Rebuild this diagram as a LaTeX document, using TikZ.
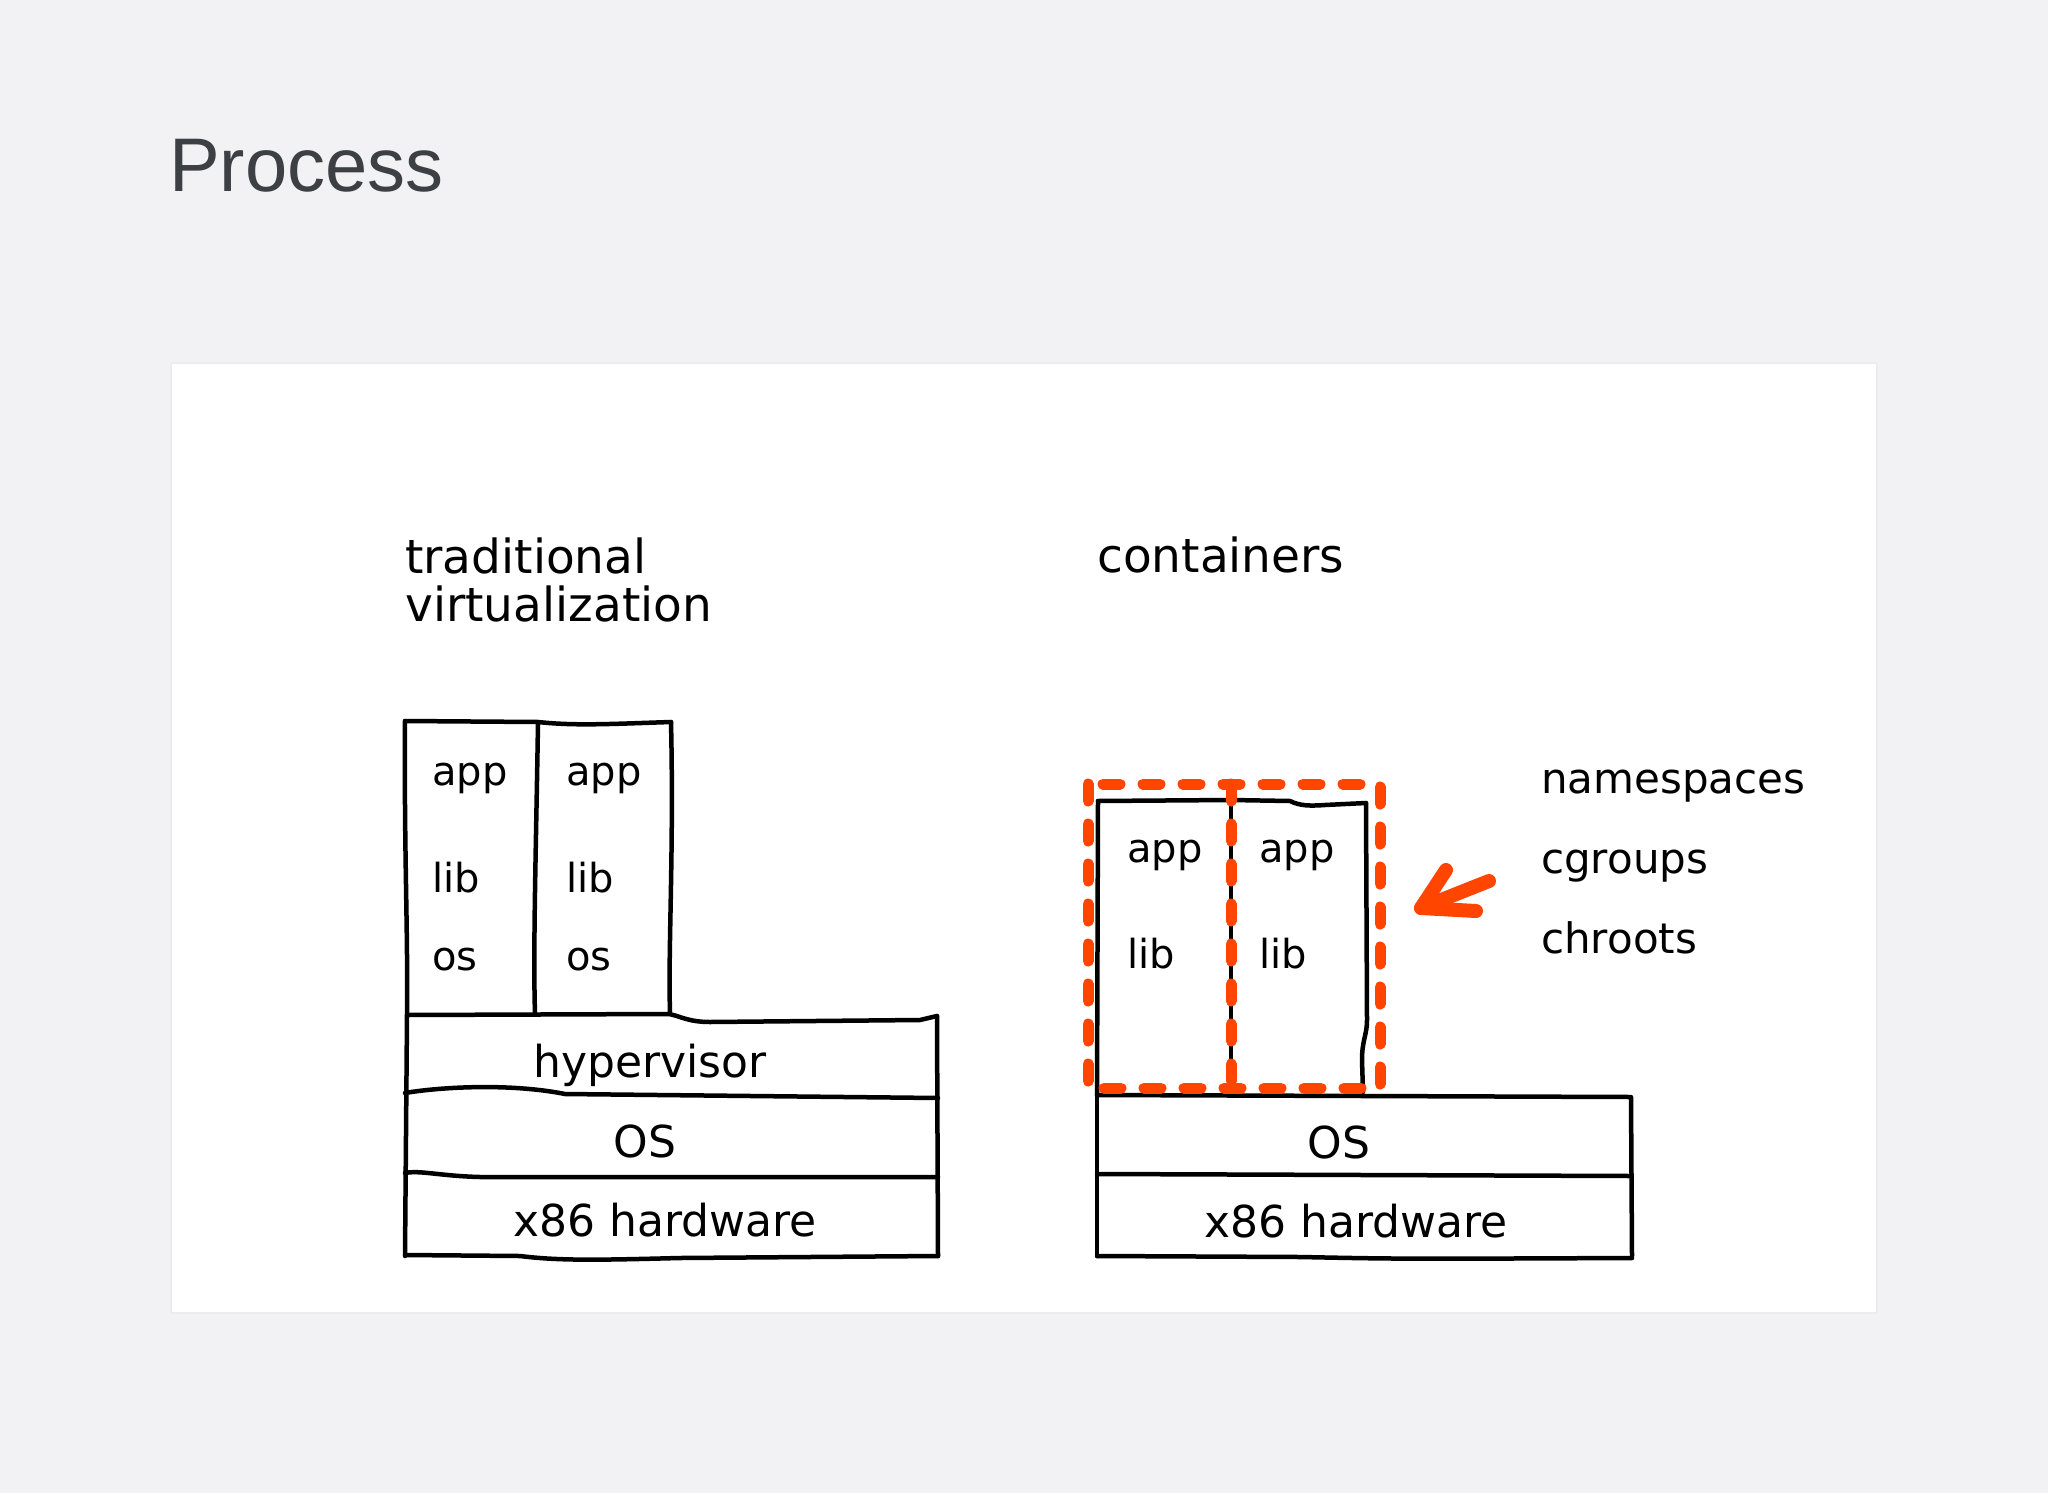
\documentclass[tikz,border=0pt]{standalone}
\usepackage{fontspec}
\setmainfont{DejaVu Sans}
\newfontfamily\titlefont{Liberation Sans}
\newfontfamily\handfont{DejaVu Sans}
\definecolor{pagebg}{RGB}{242,242,244}
\definecolor{paneledge}{RGB}{236,236,239}
\definecolor{titlegray}{RGB}{60,64,67}
\definecolor{hot}{RGB}{255,69,0}
\tikzset{
  sk/.style={draw=black, line width=4.5pt, line cap=round, line join=round},
  hotdash/.style={draw=hot, line width=11pt, line cap=round, dash pattern=on 17pt off 23pt},
  hotarrow/.style={draw=hot, line width=14pt, line cap=round, line join=round},
  lbl/.style={font=\handfont\fontsize{40}{40}\selectfont, inner sep=0pt, anchor=base west},
  lay/.style={font=\handfont\fontsize{44}{44}\selectfont, inner sep=0pt, anchor=base},
  hdr/.style={font=\handfont\fontsize{47}{47}\selectfont, inner sep=0pt, anchor=base west},
  side/.style={font=\handfont\fontsize{42}{42}\selectfont, inner sep=0pt, anchor=base west},
  ttl/.style={font=\titlefont\fontsize{76}{76}\selectfont, text=titlegray, inner sep=0pt, anchor=base west}
}
\begin{document}
\begin{tikzpicture}[x=1pt,y=-1pt]
\useasboundingbox (0,0) rectangle (2048,1493);
\fill[pagebg] (0,0) rectangle (2048,1493);
\draw[paneledge, line width=2pt, fill=white] (171,363) rectangle (1877,1313);

% title
\node[ttl] (title) at (169,191) {Process};

% headers
\node[hdr] (trad) at (405,573) {traditional};
\node[hdr] (virt) at (405,621) {virtualization};
\node[hdr] (cont) at (1097,572) {containers};

% ---------- left stack ----------
\draw[sk] (405,721) -- (538,722) .. controls (575,726) and (610,724) .. (671,722);
\draw[sk] (405,721) .. controls (404,850) and (408,930) .. (407,1015);
\draw[sk] (538,722) .. controls (536,850) and (533,950) .. (535,1014);
\draw[sk] (671,722) .. controls (674,850) and (668,950) .. (670,1012);
\draw[sk] (407,1015) -- (669,1014) .. controls (680,1016) and (688,1022) .. (710,1022) -- (920,1020) -- (937,1016);
\draw[sk] (937,1016) -- (938,1256);
\draw[sk] (407,1015) -- (405,1256);
\draw[sk] (405,1093) .. controls (440,1087) and (510,1083) .. (565,1094) -- (938,1098);
\draw[sk] (405,1173) .. controls (420,1170) and (440,1176) .. (480,1177) -- (938,1177);
\draw[sk] (405,1255) -- (520,1256) .. controls (560,1261) and (600,1260) .. (680,1258) -- (938,1256);

\node[lbl] (lapp1) at (432,785) {app};
\node[lbl] (llib1) at (432,892) {lib};
\node[lbl] (los1)  at (432,970) {os};
\node[lbl] (lapp2) at (566,785) {app};
\node[lbl] (llib2) at (566,892) {lib};
\node[lbl] (los2)  at (566,970) {os};
\node[lay] (hyp) at (650,1077) {hypervisor};
\node[lay] (los)  at (645,1157) {OS};
\node[lay] (lhw)  at (665,1236) {x86 hardware};

% ---------- right stack ----------
\draw[sk] (1098,801) -- (1231,800) -- (1290,801) .. controls (1300,806) and (1310,806) .. (1325,805) -- (1366,803);
\draw[sk] (1098,801) -- (1097,1095);
\draw[sk] (1231,800) -- (1231,1092);
\draw[sk] (1366,803) -- (1367,1020) .. controls (1367,1035) and (1362,1040) .. (1362,1060) -- (1363,1092);
\draw[sk] (1097,1095) -- (1631,1097) -- (1632,1256);
\draw[sk] (1097,1095) -- (1097,1256);
\draw[sk] (1097,1174) -- (1631,1176);
\draw[sk] (1097,1256) -- (1300,1257) .. controls (1400,1259) .. (1632,1258);

\node[lbl] (rapp1) at (1127,862) {app};
\node[lbl] (rlib1) at (1127,968) {lib};
\node[lbl] (rapp2) at (1259,862) {app};
\node[lbl] (rlib2) at (1259,968) {lib};
\node[lay] (ros) at (1339,1158) {OS};
\node[lay] (rhw) at (1356,1237) {x86 hardware};

% orange dashed container boundary
\draw[hotdash] (1088,784) rectangle (1380,1088);
\draw[hotdash] (1231,784) -- (1231,1088);

% side labels
\node[side] (ns) at (1541,793) {namespaces};
\node[side] (cg) at (1541,873) {cgroups};
\node[side] (ch) at (1541,953) {chroots};

% arrow
\coordinate (atail) at (1489,881);
\coordinate (atip) at (1421,908);
\coordinate (abarbA) at (1446,870);
\coordinate (abarbB) at (1476,911);
\draw[hotarrow] (atail) -- (atip);
\draw[hotarrow] (abarbA) -- (atip) -- (abarbB);
\end{tikzpicture}
\end{document}
